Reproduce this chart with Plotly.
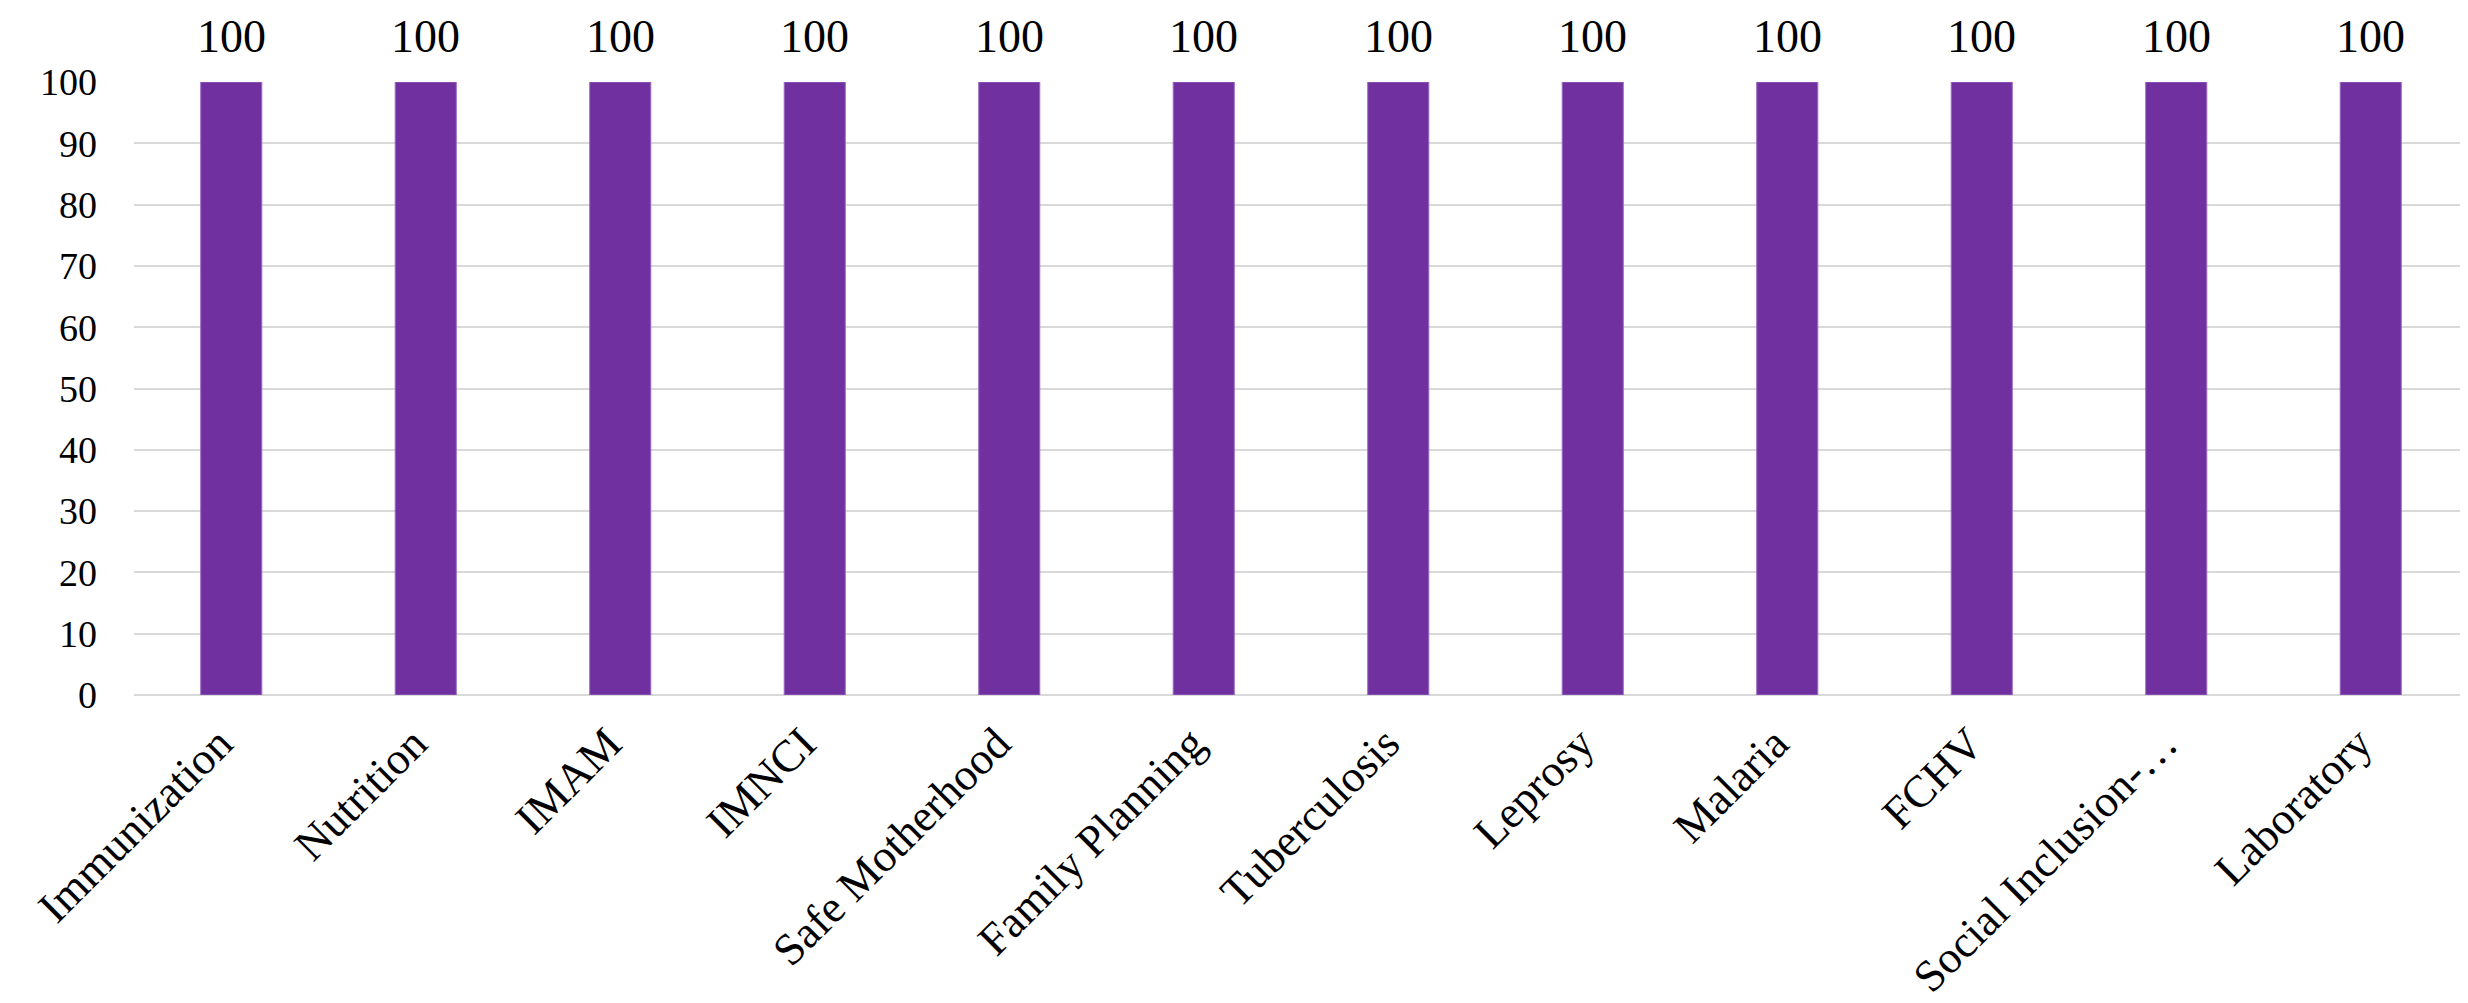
import plotly.graph_objects as go

categories = ["Immunization", "Nutrition", "IMAM", "IMNCI", "Safe Motherhood",
              "Family Planning", "Tuberculosis", "Leprosy", "Malaria", "FCHV",
              "Social Inclusion-…", "Laboratory"]
values = [100, 100, 100, 100, 100, 100, 100, 100, 100, 100, 100, 100]
y_ticks = [0, 10, 20, 30, 40, 50, 60, 70, 80, 90, 100]

FONT = "Liberation Serif, Times New Roman, serif"

fig = go.Figure()
fig.add_trace(go.Bar(
    x=categories, y=values,
    marker=dict(color="#7030A0", line=dict(color="#9B6BC4", width=1)),
    hoverinfo="x+y",
))

for c, v in zip(categories, values):
    fig.add_annotation(x=c, y=v, text=str(v), showarrow=False,
                       yanchor="bottom", yshift=18,
                       font=dict(family=FONT, size=46, color="black"))

# page body has an 8px default margin, so the figure is sized to fit the window
fig.update_layout(
    width=2460, height=995,
    margin=dict(l=126, r=0, t=74, b=308),
    paper_bgcolor="white", plot_bgcolor="white",
    bargap=0.686,
    showlegend=False,
    font=dict(family=FONT, color="black"),
)
fig.update_xaxes(
    tickangle=-45,
    tickfont=dict(family=FONT, size=45, color="black"),
    showgrid=False, showline=False,
    ticklabelstandoff=12,
    ticklabelshift=-12,
    automargin=False,
)
fig.update_yaxes(
    range=[0, 100], tickvals=y_ticks,
    tickfont=dict(family=FONT, size=38, color="black"),
    showgrid=True, gridcolor="#d9d9d9", gridwidth=2,
    zeroline=True, zerolinecolor="#d9d9d9", zerolinewidth=2,
    showline=False,
    ticklabelstandoff=36,
    automargin=False,
)

fig.write_html("out.html")
